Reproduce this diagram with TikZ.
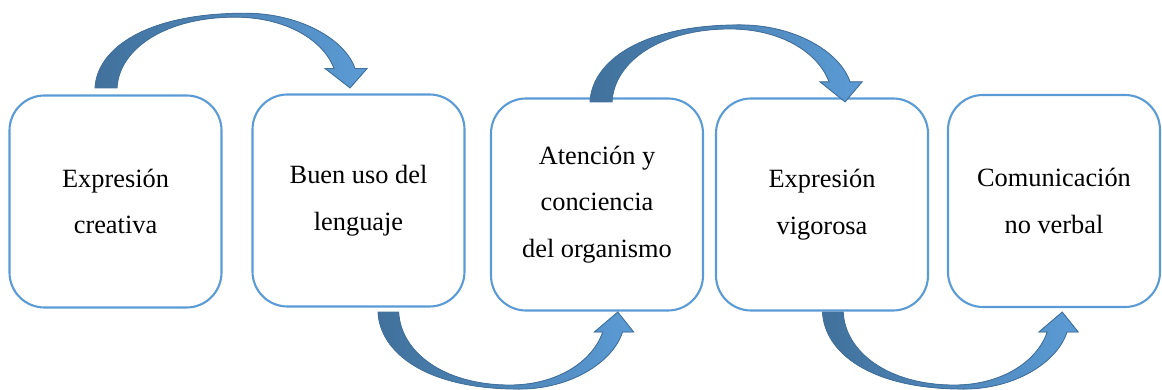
\documentclass[tikz,border=0pt]{standalone}
\usepackage{fontspec}
\setmainfont{Liberation Serif}

\definecolor{rahmenblau}{RGB}{91,155,213}
\definecolor{pfeildunkel}{RGB}{65,113,156}
\definecolor{pfeilhell}{RGB}{91,155,213}

% gebogener Blockpfeil: Startpunkt, x-Faktor, y-Faktor
\newcommand{\bogenpfeil}[3]{%
  \begin{scope}[shift={(#1)}, x=#2*0.02cm, y=#3*0.02cm]
    \filldraw[pfeil] (0,0) .. controls (2,40) and (50,77) .. (150,77)
      .. controls (205,77) and (250,50) .. (260,20) -- (272,20) -- (255,0)
      -- (230,20) -- (239,20) .. controls (228,50) and (190,73) .. (140,73)
      .. controls (70,73) and (24,40) .. (22,0) -- cycle;
  \end{scope}}

\begin{document}
\begin{tikzpicture}[
    kasten/.style={draw=rahmenblau, line width=1.2pt, rounded corners=0.7cm,
      minimum width=4.24cm, minimum height=4.24cm, align=center,
      font=\fontsize{15}{26.5}\selectfont},
    pfeil/.style={draw=pfeildunkel, line width=0.5pt,
      left color=pfeildunkel, middle color=pfeildunkel, right color=pfeilhell}]

        \useasboundingbox (0,0) rectangle (23.24,7.8);

        % Kaesten
        \node [kasten] (kasten1) at (2.31,3.77) {Expresión\\creativa};
        \node [kasten] (kasten2) at (7.17,3.79) {Buen uso del\\lenguaje};
        \node [kasten] (kasten3) at (11.94,3.71) {Atención y\\conciencia\\del organismo};
        \node [kasten] (kasten4) at (16.44,3.71) {Expresión\\vigorosa};
        \node [kasten] (kasten5) at (21.08,3.78) {Comunicación\\no verbal};

        % Startpunkte der Bogenpfeile
        \coordinate (start1) at ([xshift=-0.41cm, yshift=0.13cm]kasten1.north);
        \coordinate (start2) at ([xshift=0.39cm, yshift=-0.09cm]kasten2.south);
        \coordinate (start3) at ([xshift=-0.14cm, yshift=-0.09cm]kasten3.north);
        \coordinate (start4) at ([xshift=0.01cm, yshift=-0.01cm]kasten4.south);

        % Bogenpfeile
        \bogenpfeil{start1}{1}{0.97}
        \bogenpfeil{start2}{0.94}{-1}
        \bogenpfeil{start3}{1}{1}
        \bogenpfeil{start4}{0.94}{-1}

\end{tikzpicture}
\end{document}
